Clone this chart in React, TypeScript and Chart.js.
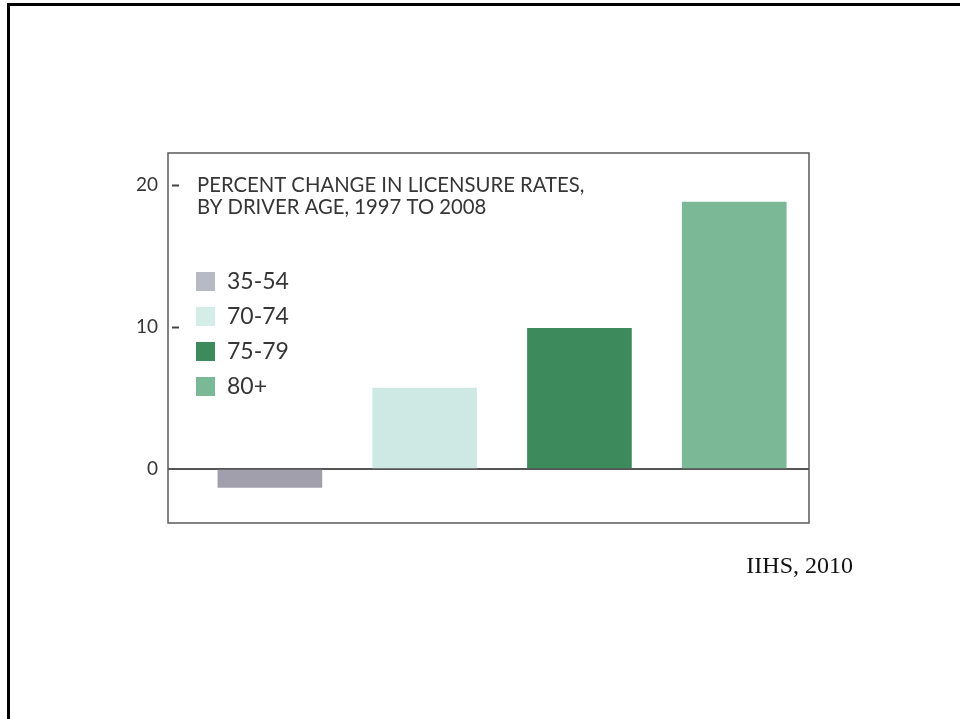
import React, { useEffect, useRef } from "react";
import { Chart, registerables } from "chart.js";

Chart.register(...registerables);

const categories = ["35-54", "70-74", "75-79", "80+"];
const percentChange = [-1.3, 5.7, 9.9, 18.8];
const barColors = ["#a29fad", "#cee9e3", "#3d8a5c", "#7bb896"];
const legendColors = ["#b7bac5", "#d5ede7", "#3d8a5c", "#7bb896"];
const yTicks = [0, 10, 20];
const titleLines = ["PERCENT CHANGE IN LICENSURE RATES,", "BY DRIVER AGE, 1997 TO 2008"];
const sourceText = "IIHS, 2010";

const TEXT = "#363636";

const decorPlugin = {
  id: "decor",
  afterDraw(chart: any) {
    const { ctx, chartArea: a, scales } = chart;
    ctx.save();
    // box around plot area
    ctx.strokeStyle = "#5a5a5a";
    ctx.lineWidth = 1.5;
    ctx.strokeRect(a.left, a.top, a.right - a.left, a.bottom - a.top);
    // inner tick dashes
    ctx.strokeStyle = "#444";
    ctx.lineWidth = 2;
    yTicks
      .filter((v) => v !== 0)
      .forEach((v) => {
        const y = Math.round(scales.y.getPixelForValue(v)) + 0.5;
        ctx.beginPath();
        ctx.moveTo(a.left + 4, y);
        ctx.lineTo(a.left + 11, y);
        ctx.stroke();
      });
    // title
    ctx.fillStyle = TEXT;
    ctx.textAlign = "left";
    ctx.textBaseline = "middle";
    ctx.font = "20.3px Lato";
    titleLines.forEach((t, i) => ctx.fillText(t, a.left + 29, a.top + 32 + i * 22));
    // legend
    categories.forEach((c, i) => {
      const cy = a.top + 129 + i * 35;
      ctx.fillStyle = legendColors[i];
      ctx.fillRect(a.left + 28, cy - 10, 19, 19);
      ctx.fillStyle = TEXT;
      ctx.font = "23px Lato";
      ctx.fillText(c, a.left + 59, cy);
    });
    // source
    ctx.fillStyle = "#111";
    ctx.textAlign = "right";
    ctx.textBaseline = "alphabetic";
    ctx.font = "24px 'Liberation Serif'";
    ctx.fillText(sourceText, a.right + 44, a.bottom + 50);
    ctx.restore();
  },
};

function BarChart() {
  const ref = useRef<HTMLCanvasElement | null>(null);
  useEffect(() => {
    if (!ref.current) return;
    const chart = new Chart(ref.current, {
      type: "bar",
      data: {
        datasets: [
          {
            label: "Percent change",
            data: percentChange.map((v, i) => ({ x: i, y: v })),
            backgroundColor: barColors,
            borderWidth: 0,
            barThickness: 104,
          },
        ],
      },
      options: {
        animation: false,
        responsive: false,
        devicePixelRatio: 1,
        layout: { padding: { left: 0, top: 153, right: 151, bottom: 196 } },
        plugins: {
          legend: { display: false },
          tooltip: { enabled: false },
          title: { display: false },
        },
        scales: {
          x: {
            type: "linear",
            display: false,
            offset: false,
            min: -0.658,
            max: 3.483,
          },
          y: {
            type: "linear",
            min: -3.8,
            max: 22.25,
            z: 1,
            afterFit: (scale: any) => {
              scale.width = 168;
            },
            afterBuildTicks: (scale: any) => {
              scale.ticks = yTicks.map((v) => ({ value: v }));
            },
            border: { display: false },
            grid: {
              drawTicks: false,
              lineWidth: 2,
              color: (c: any) => (c.tick && c.tick.value === 0 ? "#555555" : "rgba(0,0,0,0)"),
            },
            ticks: {
              padding: 10,
              color: TEXT,
              font: { family: "Lato", size: 19 },
              callback: (v: any) => String(v),
            },
          },
        },
      },
      plugins: [decorPlugin],
    });
    return () => chart.destroy();
  }, []);
  return (
    <canvas
      ref={ref}
      width={960}
      height={719}
      style={{ position: "fixed", left: 0, top: 0, width: 960, height: 719, display: "block" }}
    />
  );
}

export default function App() {
  return (
    <div style={{ position: "fixed", inset: 0, overflow: "hidden", background: "#fff" }}>
      <div
        style={{
          position: "absolute",
          left: 7,
          top: 3,
          width: 1200,
          height: 1000,
          borderTop: "3px solid #000",
          borderLeft: "3px solid #000",
        }}
      />
      <BarChart />
    </div>
  );
}
